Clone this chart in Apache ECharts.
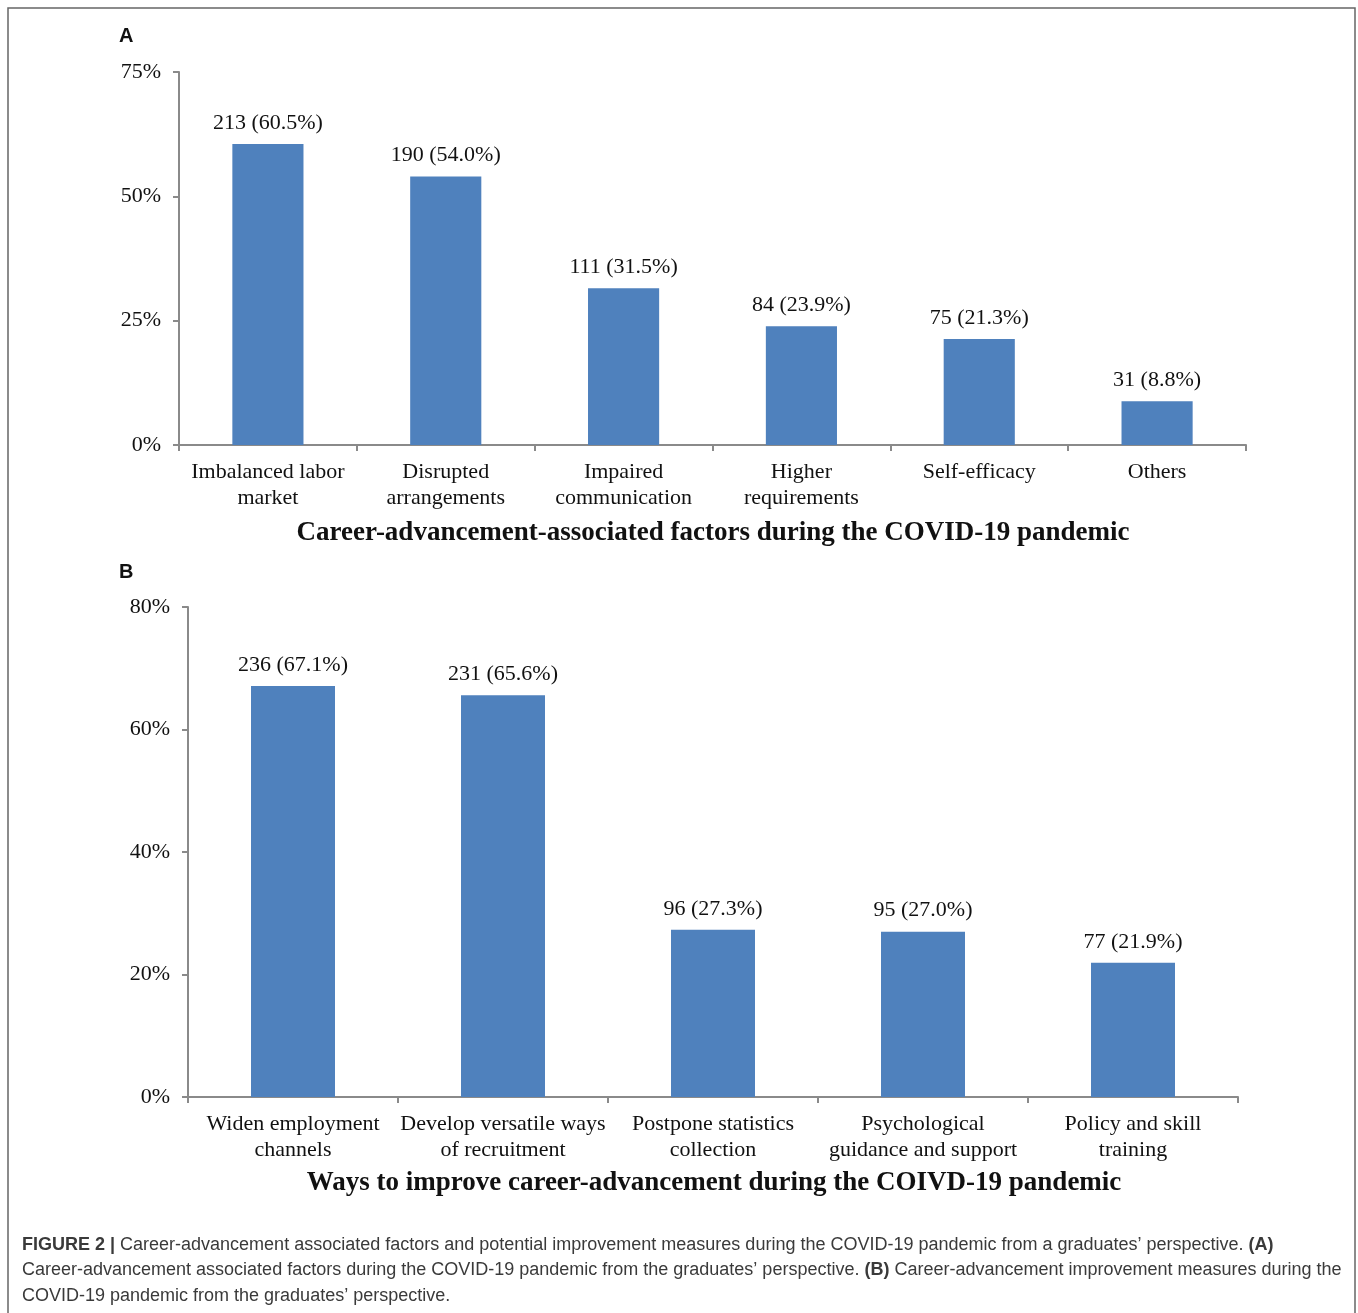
<!DOCTYPE html>
<html>
<head>
<meta charset="utf-8">
<script src="https://cdn.jsdelivr.net/npm/echarts@6/dist/echarts.min.js"></script>
<style>
html,body{margin:0;padding:0;background:#fff;}
#c{width:1358px;height:1313px;}
</style>
</head>
<body>
<div id="c"></div>
<script>
// Panel A data
const catsA = ['Imbalanced labor\nmarket', 'Disrupted\narrangements', 'Impaired\ncommunication', 'Higher\nrequirements', 'Self-efficacy', 'Others'];
const countsA = [213, 190, 111, 84, 75, 31];
const pctA = [60.5, 54.0, 31.5, 23.9, 21.3, 8.8];
const titleA = 'Career-advancement-associated factors during the COVID-19 pandemic';

// Panel B data
const catsB = ['Widen employment\nchannels', 'Develop versatile ways\nof recruitment', 'Postpone statistics\ncollection', 'Psychological\nguidance and support', 'Policy and skill\ntraining'];
const countsB = [236, 231, 96, 95, 77];
const pctB = [67.1, 65.6, 27.3, 27.0, 21.9];
const titleB = 'Ways to improve career-advancement during the COIVD-19 pandemic';

const captionLines = [
  [{b:'FIGURE 2 | '}, {t:'Career-advancement associated factors and potential improvement measures during the COVID-19 pandemic from a graduates\u2019 perspective. '}, {b:'(A)'}],
  [{t:'Career-advancement associated factors during the COVID-19 pandemic from the graduates\u2019 perspective. '}, {b:'(B)'}, {t:' Career-advancement improvement measures during the'}],
  [{t:'COVID-19 pandemic from the graduates\u2019 perspective.'}]
];

const SERIF = '"Liberation Serif", "Times New Roman", serif';
const SANS = '"Liberation Sans", Arial, sans-serif';
const AXC = '#8a8a8a';
const BAR = '#4F81BD';

function fmt(counts, pcts) {
  return function (p) { return counts[p.dataIndex] + ' (' + pcts[p.dataIndex].toFixed(1) + '%)'; };
}

const chart = echarts.init(document.getElementById('c'), null, {renderer: 'canvas'});

function xAxis(cats, gi) {
  return {
    type: 'category', gridIndex: gi, data: cats,
    axisLine: {lineStyle: {color: AXC, width: 2}},
    axisTick: {show: true, length: 6, lineStyle: {color: AXC, width: 2}},
    axisLabel: {fontFamily: SERIF, fontSize: 22, color: '#111', margin: 14, lineHeight: 26, interval: 0}
  };
}
function yAxis(max, interval, gi) {
  return {
    type: 'value', gridIndex: gi, min: 0, max: max, interval: interval,
    splitLine: {show: false},
    axisLine: {show: true, lineStyle: {color: AXC, width: 2}},
    axisTick: {show: true, length: 6, lineStyle: {color: AXC, width: 2}},
    axisLabel: {fontFamily: SERIF, fontSize: 22, color: '#111', margin: 18, formatter: '{value}%'}
  };
}

const captionGraphics = captionLines.map(function (parts, i) {
  let txt = parts.map(function (p) { return p.b ? '{b|' + p.b + '}' : '{t|' + p.t + '}'; }).join('');
  return {
    type: 'text', left: 22, top: 1236 + i * 25.5,
    style: {
      text: txt,
      rich: {
        t: {fontFamily: SANS, fontSize: 18, fill: '#3a3a3a'},
        b: {fontFamily: SANS, fontSize: 18, fontWeight: 'bold', fill: '#3a3a3a'}
      }
    }
  };
});

chart.setOption({
  animation: false,
  grid: [
    {left: 179, top: 72, width: 1067, height: 373},
    {left: 188, top: 607, width: 1050, height: 490}
  ],
  xAxis: [xAxis(catsA, 0), xAxis(catsB, 1)],
  yAxis: [yAxis(75, 25, 0), yAxis(80, 20, 1)],
  series: [
    {
      type: 'bar', xAxisIndex: 0, yAxisIndex: 0, data: pctA, barWidth: '40%',
      itemStyle: {color: BAR},
      label: {show: true, position: 'top', distance: 10, fontFamily: SERIF, fontSize: 22, color: '#111', formatter: fmt(countsA, pctA)}
    },
    {
      type: 'bar', xAxisIndex: 1, yAxisIndex: 1, data: pctB, barWidth: '40%',
      itemStyle: {color: BAR},
      label: {show: true, position: 'top', distance: 10, fontFamily: SERIF, fontSize: 22, color: '#111', formatter: fmt(countsB, pctB)}
    }
  ],
  graphic: [
    {type: 'rect', shape: {x: 8, y: 8, width: 1347, height: 1320}, style: {fill: 'none', stroke: '#666', lineWidth: 1.5}},
    {type: 'text', left: 119, top: 26, style: {text: 'A', fontFamily: SANS, fontWeight: 'bold', fontSize: 20, fill: '#111'}},
    {type: 'text', left: 119, top: 562, style: {text: 'B', fontFamily: SANS, fontWeight: 'bold', fontSize: 20, fill: '#111'}},
    {type: 'text', x: 713, y: 533, style: {text: titleA, fontFamily: SERIF, fontWeight: 'bold', fontSize: 27, fill: '#111', textAlign: 'center', textVerticalAlign: 'middle'}},
    {type: 'text', x: 714, y: 1183, style: {text: titleB, fontFamily: SERIF, fontWeight: 'bold', fontSize: 27, fill: '#111', textAlign: 'center', textVerticalAlign: 'middle'}}
  ].concat(captionGraphics)
});
</script>
</body>
</html>
